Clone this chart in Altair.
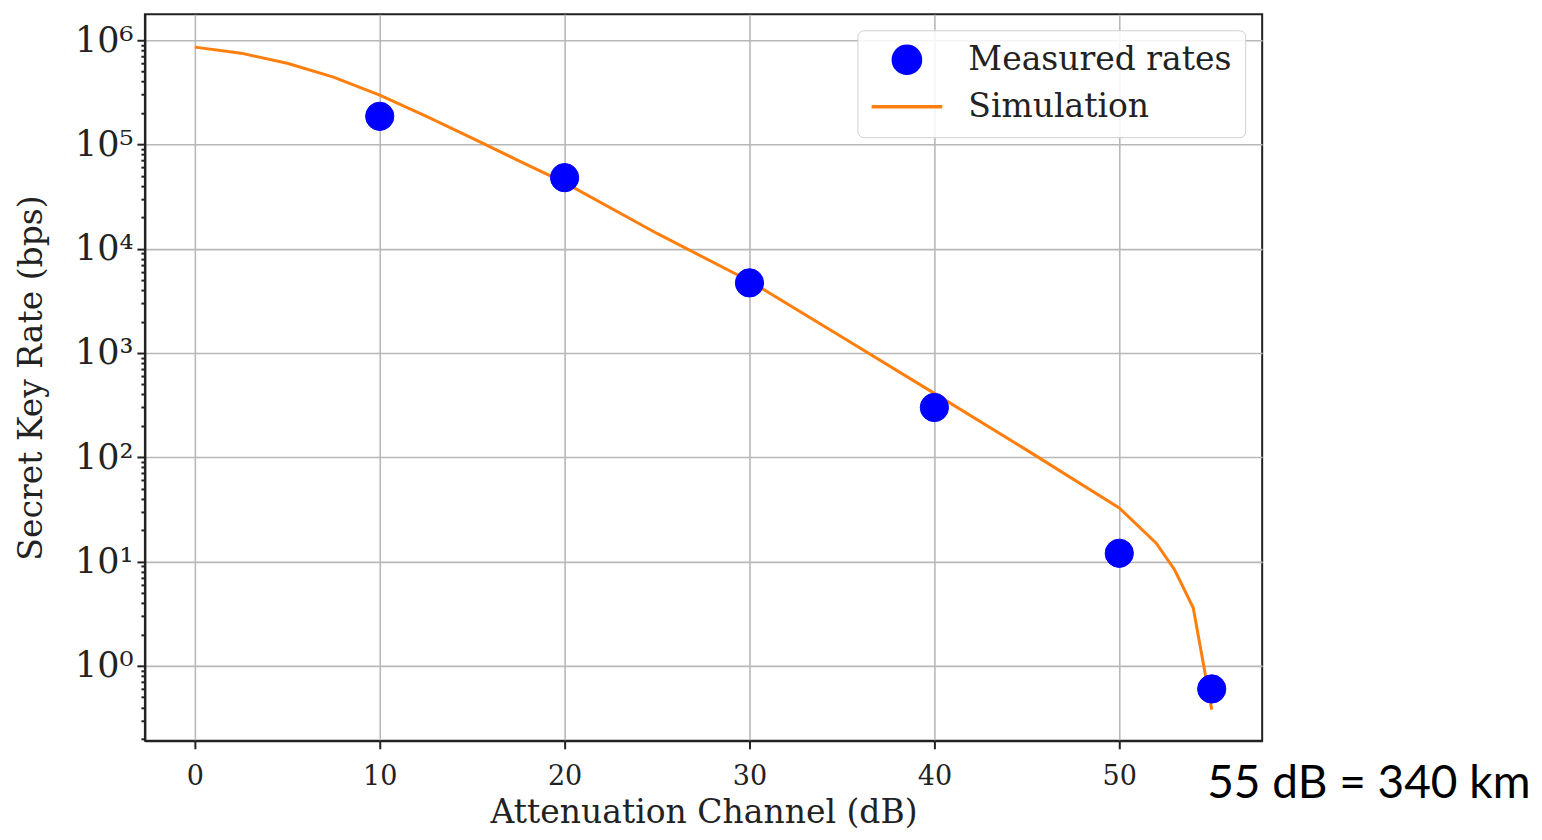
import altair as alt
import pandas as pd

# ---- data ----
series_names = ["Measured rates", "Simulation"]
series_colors = ["#0000ff", "#ff7f0e"]

atten_measured = [10, 20, 30, 40, 50, 55]
rate_measured = [1.86e5, 4.8e4, 4.7e3, 3.0e2, 12.0, 0.60]

atten_sim = [0, 2.5, 5, 7.5, 10, 12.5, 15, 17.5, 20, 25, 30, 35, 40, 45, 50, 52, 53, 54, 55]
rate_sim = [8.57e5, 7.5e5, 6.0e5, 4.42e5, 2.97e5, 1.87e5, 1.15e5, 7.0e4, 4.3e4,
            1.4e4, 4.9e3, 1.42e3, 4.1e2, 1.17e2, 32.7, 15.0, 8.3, 3.6, 0.38]

x_ticks = [0, 10, 20, 30, 40, 50]
annotation = "55 dB = 340 km"

df_meas = pd.DataFrame({"atten": atten_measured, "rate": rate_measured, "series": series_names[0]})
df_sim = pd.DataFrame({"atten": atten_sim, "rate": rate_sim, "series": series_names[1]})

y_ticks = [m * 10 ** k for k in range(-1, 7) for m in range(1, 10)
           if 0.19 <= m * 10 ** k <= 1.77e6]

is_major = "abs(log(datum.value)/LN10 - round(log(datum.value)/LN10)) < 0.001"
expo = "round(log(datum.value)/LN10)"
label_expr = f"{is_major} ? '10' + substring('⁰¹²³⁴⁵⁶⁷⁸⁹', {expo}, {expo}+1) : ''"

FONT = "DejaVu Serif"

x_enc = alt.X(
    "atten:Q",
    scale=alt.Scale(domain=[-2.7, 57.73], nice=False, zero=False),
    axis=alt.Axis(
        values=x_ticks, title="Attenuation Channel (dB)", format="d",
        labelFontSize=27, labelFont=FONT, labelColor="#222222", labelPadding=15,
        titleFontSize=33, titleFont=FONT, titleFontWeight="normal", titleColor="#222222",
        titlePadding=7, tickSize=8, tickWidth=2, tickColor="#222222",
        domainColor="#222222", domainWidth=2,
        grid=True, gridColor="#b8b8b8", gridWidth=1.6,
    ),
)

y_enc = alt.Y(
    "rate:Q",
    scale=alt.Scale(type="log", domain=[0.191, 1.77e6], nice=False),
    axis=alt.Axis(
        values=y_ticks, title="Secret Key Rate (bps)", labelExpr=label_expr,
        labelFontSize=35, labelFont=FONT, labelColor="#222222", labelPadding=4,
        labelOverlap=False, labelFlush=False,
        titleFontSize=33, titleFont=FONT, titleFontWeight="normal", titleColor="#222222",
        titlePadding=26,
        tickSize={"condition": {"test": is_major, "value": 8}, "value": 4},
        tickWidth=2, tickColor="#222222",
        domainColor="#222222", domainWidth=2,
        grid=True, gridColor="#b8b8b8", gridWidth=1.6,
        gridOpacity={"condition": {"test": is_major, "value": 1}, "value": 0},
    ),
)

legend = alt.Legend(
    title=None, orient="none", legendX=713, legendY=16,
    labelFont=FONT, labelFontSize=33, labelColor="#222222", labelLimit=400,
    symbolSize=740, symbolStrokeWidth=3.5, labelOffset=45, symbolOffset=20,
    padding=13, rowPadding=9,
    fillColor="rgba(255,255,255,0.85)", strokeColor="#d0d0d0", cornerRadius=6,
)

fill_scale = alt.Scale(domain=series_names, range=series_colors)
stroke_scale = alt.Scale(domain=series_names, range=series_colors)
shape_scale = alt.Scale(domain=series_names, range=["circle", "M-2.6,0L2.6,0"])

line = alt.Chart(df_sim).mark_line(strokeWidth=3, clip=True).encode(
    x=x_enc, y=y_enc,
    stroke=alt.Stroke("series:N", scale=stroke_scale, legend=legend),
)

points = alt.Chart(df_meas).mark_point(filled=True, size=800, opacity=1, strokeWidth=1).encode(
    x=x_enc, y=y_enc,
    fill=alt.Fill("series:N", scale=fill_scale, legend=legend),
    stroke=alt.Stroke("series:N", scale=stroke_scale, legend=legend),
    shape=alt.Shape("series:N", scale=shape_scale, legend=legend),
)

note = alt.Chart(pd.DataFrame({"t": [annotation]})).mark_text(
    font="Lato", fontSize=46, align="left", baseline="alphabetic", color="#000000",
).encode(x=alt.value(1063), y=alt.value(784), text="t:N")

chart = alt.layer(line, points, note).properties(
    width=1118, height=727,
    padding={"left": 137, "top": 6, "right": 272, "bottom": 91},
    autosize=alt.AutoSizeParams(type="none"),
).configure(
    font=FONT, background="white",
).configure_view(
    stroke="#222222", strokeWidth=2,
)

chart.save("out.html", embed_options={"renderer": "svg", "actions": False})
